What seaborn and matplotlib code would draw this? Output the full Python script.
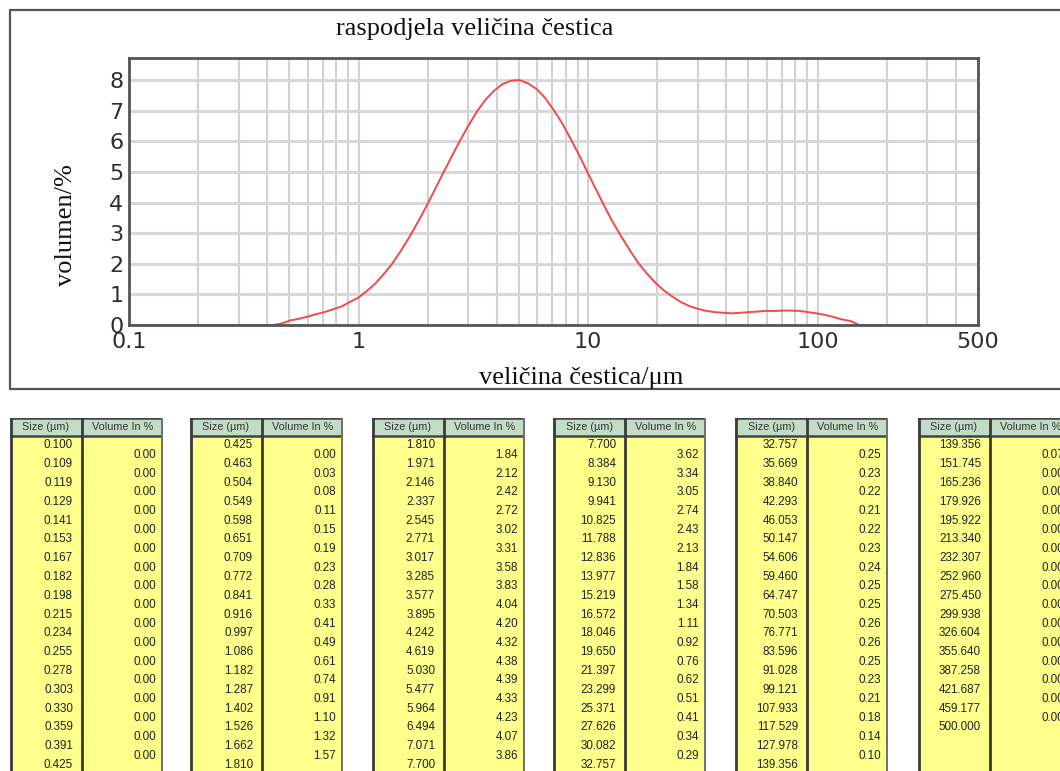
import matplotlib
matplotlib.use("Agg")
import matplotlib.pyplot as plt
import seaborn as sns
import numpy as np
import pandas as pd
from matplotlib.lines import Line2D

# size class edges (um) as printed in the tables
sizes = [0.100, 0.109, 0.119, 0.129, 0.141, 0.153, 0.167, 0.182, 0.198, 0.215,
         0.234, 0.255, 0.278, 0.303, 0.330, 0.359, 0.391, 0.425, 0.463, 0.504,
         0.549, 0.598, 0.651, 0.709, 0.772, 0.841, 0.916, 0.997, 1.086, 1.182,
         1.287, 1.402, 1.526, 1.662, 1.810, 1.971, 2.146, 2.337, 2.545, 2.771,
         3.017, 3.285, 3.577, 3.895, 4.242, 4.619, 5.030, 5.477, 5.964, 6.494,
         7.071, 7.700, 8.384, 9.130, 9.941, 10.825, 11.788, 12.836, 13.977, 15.219,
         16.572, 18.046, 19.650, 21.397, 23.299, 25.371, 27.626, 30.082, 32.757, 35.669,
         38.840, 42.293, 46.053, 50.147, 54.606, 59.460, 64.747, 70.503, 76.771, 83.596,
         91.028, 99.121, 107.933, 117.529, 127.978, 139.356, 151.745, 165.236, 179.926, 195.922,
         213.340, 232.307, 252.960, 275.450, 299.938, 326.604, 355.640, 387.258, 421.687, 459.177,
         500.000]

# volume in % per class (table values)
volume = [0.00] * 17 + \
    [0.00, 0.03, 0.08, 0.11, 0.15, 0.19, 0.23, 0.28, 0.33, 0.41, 0.49, 0.61, 0.74, 0.91, 1.10, 1.32, 1.57] + \
    [1.84, 2.12, 2.42, 2.72, 3.02, 3.31, 3.58, 3.83, 4.04, 4.20, 4.32, 4.38, 4.39, 4.33, 4.23, 4.07, 3.86] + \
    [3.62, 3.34, 3.05, 2.74, 2.43, 2.13, 1.84, 1.58, 1.34, 1.11, 0.92, 0.76, 0.62, 0.51, 0.41, 0.34, 0.29] + \
    [0.25, 0.23, 0.22, 0.21, 0.22, 0.23, 0.24, 0.25, 0.25, 0.26, 0.26, 0.25, 0.23, 0.21, 0.18, 0.14, 0.10] + \
    [0.07] + [0.00] * 14

# curve heights (volume density), one per size edge
curve = [0.00] * 17 + \
    [0.00, 0.05, 0.15, 0.20, 0.27, 0.35, 0.42, 0.51, 0.60, 0.75, 0.89, 1.11, 1.35, 1.66, 2.00, 2.41, 2.86] + \
    [3.35, 3.86, 4.41, 4.96, 5.50, 6.03, 6.52, 6.98, 7.36, 7.65, 7.87, 7.98, 8.00, 7.89, 7.71, 7.42, 7.03] + \
    [6.60, 6.09, 5.56, 4.99, 4.43, 3.88, 3.35, 2.88, 2.44, 2.02, 1.68, 1.38, 1.13, 0.93, 0.75, 0.62, 0.53] + \
    [0.46, 0.42, 0.40, 0.38, 0.40, 0.42, 0.44, 0.46, 0.46, 0.47, 0.47, 0.46, 0.42, 0.38, 0.33, 0.26, 0.18] + \
    [0.13] + [0.00] * 14 + [0.00]

xticks = [0.1, 1, 10, 100, 500]
xtick_labels = ["0.1", "1", "10", "100", "500"]
yticks = [0, 1, 2, 3, 4, 5, 6, 7, 8]

sns.set_style("white")
W, H = 1060, 771
fig = plt.figure(figsize=(W / 100, H / 100), dpi=100)
fig.patch.set_facecolor("white")

serif = ["Liberation Serif", "DejaVu Serif"]

# ---- top chart ----
ax = fig.add_axes([129 / W, 1 - 325 / H, 849 / W, 267 / H])
df = pd.DataFrame({"size": sizes, "vol": curve})
sns.lineplot(data=df, x="size", y="vol", ax=ax, color="#f04a4a", lw=1.4)
ax.set_xscale("log")
ax.set_xlim(0.1, 500)
ax.set_ylim(0, 8.72)
ax.set_xticks(xticks)
ax.set_xticklabels(xtick_labels)
ax.xaxis.set_minor_formatter(matplotlib.ticker.NullFormatter())
ax.set_yticks(yticks)
ax.grid(True, which="both", axis="x", color="#d2d2d2", lw=1.5)
ax.grid(True, which="major", axis="y", color="#d8d8d8", lw=2.2)
ax.set_axisbelow(True)
ax.tick_params(which="both", length=0, labelsize=16, labelcolor="#2e2e2e")
ax.tick_params(axis="y", pad=4)
ax.tick_params(axis="x", pad=5)
for sp in ax.spines.values():
    sp.set_visible(True)
    sp.set_color("#555555")
    sp.set_linewidth(2)
ax.set_xlabel("")
ax.set_ylabel("")

fig.text(475 / W, 1 - 29 / H, "raspodjela veličina čestica", family=serif,
         fontsize=19, ha="center", va="center", color="#111111")
fig.text(581 / W, 1 - 378 / H, "veličina čestica/μm", family=serif,
         fontsize=19, ha="center", va="center", color="#111111")
fig.text(66 / W, 1 - 225 / H, "volumen/%", family=serif, fontsize=19,
         rotation=90, ha="center", va="center", color="#111122")

# outer frame of the chart panel
for xs, ys in [((10, W), (10, 10)), ((10, 10), (10, 389)), ((10, W), (389, 389))]:
    fig.add_artist(Line2D([x / W for x in xs], [1 - y / H for y in ys],
                          color="#555555", lw=1.6, transform=fig.transFigure))

# ---- tables ----
row_h = 18.8
tab_left = [10, 190, 372, 553, 735, 918]
tab_w, div = 153, 72
head_top = -18 / row_h
body_bottom = (H - 436) / row_h

for k, L in enumerate(tab_left):
    tx = fig.add_axes([L / W, 0, tab_w / W, (H - 418) / H])
    tx.set_xlim(0, tab_w)
    tx.set_ylim(body_bottom, head_top)
    tx.axis("off")
    tx.axhspan(head_top, 0, color="#c3dcc8", lw=0)
    tx.axhspan(0, body_bottom, color="#ffff8c", lw=0)
    tx.axhline(head_top, color="#444444", lw=1.8)
    tx.axhline(0, color="#444444", lw=1.8)
    tx.axvline(0.8, color="#3a3a3a", lw=2)
    tx.axvline(div, color="#3a3a3a", lw=2)
    tx.axvline(tab_w - 1, color="#707070", lw=1.4)
    tx.text(div / 2, head_top / 2, "Size (µm)", ha="center", va="center",
            fontsize=7.8, family="Liberation Sans", color="#333333")
    tx.text((div + tab_w) / 2, head_top / 2, "Volume In %", ha="center", va="center",
            fontsize=7.8, family="Liberation Sans", color="#333333")
    s_part = sizes[17 * k: 17 * k + 18]
    v_part = volume[17 * k: 17 * k + 17]
    for i, s in enumerate(s_part):
        tx.text(div - 9, i + 0.5, f"{s:.3f}", ha="right", va="center",
                fontsize=8.4, family="Liberation Sans", color="#222222")
    for i, v in enumerate(v_part):
        tx.text(tab_w - 7, i + 1.0, f"{v:.2f}", ha="right", va="center",
                fontsize=8.4, family="Liberation Sans", color="#222222")

fig.savefig("out.png", dpi=100)
